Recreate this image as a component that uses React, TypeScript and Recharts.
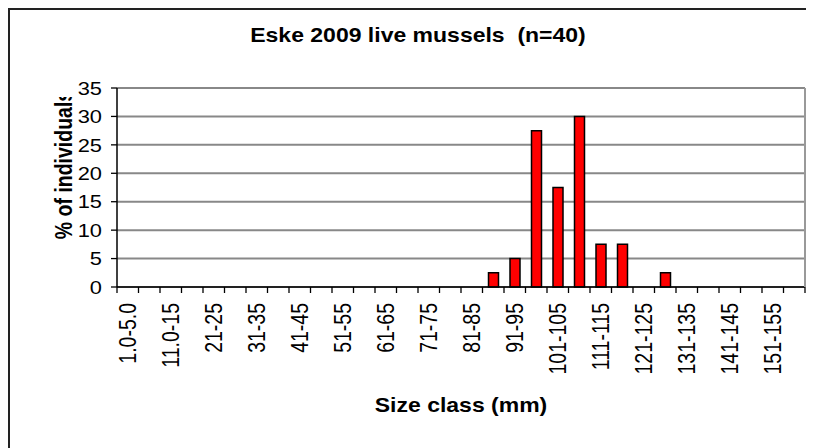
import React from "react";
import { BarChart, Bar, XAxis, YAxis, CartesianGrid } from "recharts";

const chartTitle = "Eske 2009 live mussels  (n=40)";
const xAxisTitle = "Size class (mm)";
const yAxisTitle = "% of individuals";

const sizeClasses = [
  "1.0-5.0", "6.0-10", "11.0-15", "16-20", "21-25", "26-30", "31-35", "36-40",
  "41-45", "46-50", "51-55", "56-60", "61-65", "66-70", "71-75", "76-80",
  "81-85", "86-90", "91-95", "96-100", "101-105", "106-110", "111-115", "116-120",
  "121-125", "126-130", "131-135", "136-140", "141-145", "146-150", "151-155", "156-160",
];

const percentIndividuals = [
  0, 0, 0, 0, 0, 0, 0, 0,
  0, 0, 0, 0, 0, 0, 0, 0,
  0, 2.5, 5, 27.5, 17.5, 30, 7.5, 7.5,
  0, 2.5, 0, 0, 0, 0, 0, 0,
];

const yTicks = [0, 5, 10, 15, 20, 25, 30, 35];

const data = sizeClasses.map((c, i) => ({ sizeClass: c, pct: percentIndividuals[i] }));

const FONT = "'Liberation Sans', Arial, Helvetica, sans-serif";
const STRETCH = 1.18;
const W = 804;
const H = 438;

const XTick = (props: any) => {
  const { x, y, payload, index } = props;
  const half = payload && payload.offset ? payload.offset : 10.75;
  const last = index === sizeClasses.length - 1;
  return (
    <g>
      <line x1={x - half} y1={y} x2={x - half} y2={y + 6} stroke="#000" strokeWidth={1.3} />
      {last && <line x1={x + half} y1={y} x2={x + half} y2={y + 6} stroke="#000" strokeWidth={1.3} />}
      {last && <line x1={x + half} y1={y} x2={x + half} y2={y - 199} stroke="#999" strokeWidth={2} />}
      {index % 2 === 0 && (
        <g transform={`translate(${x},${y + 16}) scale(${STRETCH},1) rotate(-90)`}>
          <text x={0} y={0} dy="0.36em" textAnchor="end" fontSize={19.5} fontFamily={FONT} fill="#000">
            {payload.value}
          </text>
        </g>
      )}
    </g>
  );
};

const YTick = (props: any) => {
  const { x, y, payload } = props;
  return (
    <g transform={`translate(${x},${y}) scale(${STRETCH},1)`}>
      <text x={0} y={0} dy="0.36em" textAnchor="end" fontSize={18.5} fontFamily={FONT} fill="#000">
        {payload.value}
      </text>
    </g>
  );
};

export default function App() {
  return (
    <div
      style={{
        position: "relative",
        boxSizing: "border-box",
        width: W + 2,
        height: H + 2,
        overflow: "hidden",
        borderTop: "2px solid #222",
        borderLeft: "2px solid #222",
      }}
    >
      <style>{"html,body{overflow:hidden;}"}</style>
      <BarChart
        width={W}
        height={H}
        data={data}
        margin={{ top: 78, right: 9, left: 0, bottom: 41 }}
        style={{ outline: "none" }}
      >
        <CartesianGrid
          horizontal={true}
          vertical={false}
          stroke="#888"
          strokeWidth={2}
        />
        <XAxis
          dataKey="sizeClass"
          interval={0}
          height={120}
          tickSize={0}
          tickMargin={0}
          tick={<XTick />}
          axisLine={{ stroke: "#000", strokeWidth: 1.5 }}
          tickLine={false}
        />
        <YAxis
          width={107}
          domain={[0, 35]}
          ticks={yTicks}
          interval={0}
          tickSize={6}
          tickMargin={9}
          tick={<YTick />}
          axisLine={{ stroke: "#000", strokeWidth: 1.5 }}
          tickLine={{ stroke: "#000", strokeWidth: 1.3 }}
        />
        <Bar
          dataKey="pct"
          fill="#FF0000"
          stroke="#000"
          strokeWidth={1.5}
          barSize={10}
          isAnimationActive={false}
        />
      </BarChart>
      <svg
        width={W}
        height={H}
        style={{ position: "absolute", left: 0, top: 0, pointerEvents: "none" }}
      >
        <defs>
          <clipPath id="ylabclip">
            <rect x={0} y={87} width={100} height={300} />
          </clipPath>
        </defs>
        <g transform={`translate(408,25) scale(${STRETCH},1)`}>
          <text
            x={0}
            y={0}
            dy="0.36em"
            textAnchor="middle"
            fontSize={19.5}
            fontWeight="bold"
            fontFamily={FONT}
            fill="#000"
            style={{ whiteSpace: "pre" }}
          >
            {chartTitle}
          </text>
        </g>
        <g transform={`translate(451,395) scale(${STRETCH},1)`}>
          <text
            x={0}
            y={0}
            dy="0.36em"
            textAnchor="middle"
            fontSize={19.5}
            fontWeight="bold"
            fontFamily={FONT}
            fill="#000"
          >
            {xAxisTitle}
          </text>
        </g>
        <g clipPath="url(#ylabclip)">
          <g transform={`translate(54,155) scale(${STRETCH},1) rotate(-90)`}>
            <text
              x={0}
              y={0}
              dy="0.36em"
              textAnchor="middle"
              fontSize={19.5}
              fontWeight="bold"
              fontFamily={FONT}
              fill="#000"
            >
              {yAxisTitle}
            </text>
          </g>
        </g>
      </svg>
    </div>
  );
}
